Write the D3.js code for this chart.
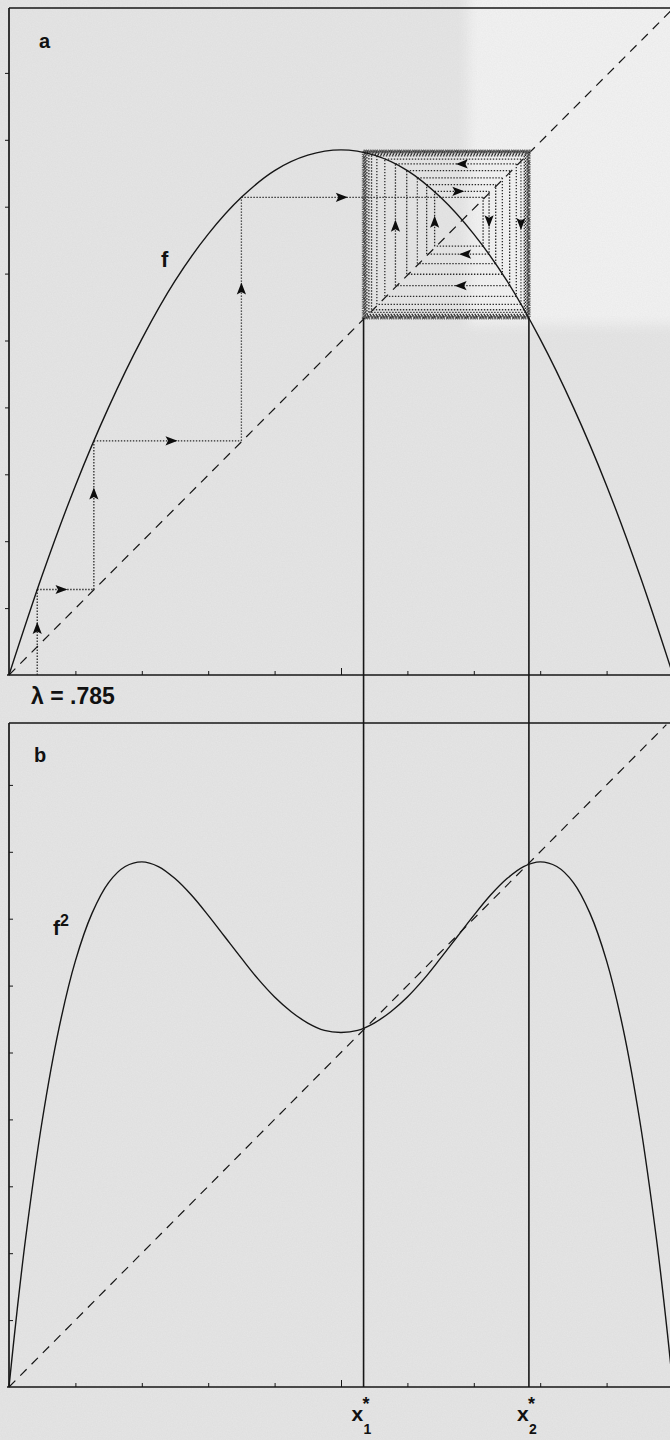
<!DOCTYPE html>
<html>
<head>
<meta charset="utf-8">
<script src="https://cdn.jsdelivr.net/npm/d3@7"></script>
<style>
  html, body { margin: 0; padding: 0; background: #e4e4e4; }
  svg { display: block; }
  text { font-family: "Liberation Sans", Arial, sans-serif; font-weight: bold; fill: #111; }
</style>
</head>
<body>
<svg id="chart" width="670" height="1440"></svg>
<script>
// ---------------- data ----------------
const lambdaLabel = "λ = .785";
const panelLabels = ["a", "b"];
const tickValues = [0.1, 0.2, 0.3, 0.4, 0.5, 0.6, 0.7, 0.8, 0.9];

// f(x) sampled
const fX = [0, 0.05, 0.1, 0.15, 0.2, 0.25, 0.3, 0.35, 0.4, 0.45, 0.5, 0.55, 0.6, 0.65, 0.7, 0.75, 0.8, 0.85, 0.9, 0.95, 1];
const fY = [0, 0.149, 0.283, 0.400, 0.502, 0.589, 0.659, 0.714, 0.754, 0.777, 0.785, 0.777, 0.754, 0.714, 0.659, 0.589, 0.502, 0.400, 0.283, 0.149, 0];

// f²(x) sampled
const f2X = [0, 0.00625, 0.0125, 0.025, 0.05, 0.075, 0.1, 0.125, 0.15, 0.175, 0.2, 0.225, 0.25, 0.275, 0.3, 0.325, 0.35, 0.375, 0.4, 0.425, 0.45, 0.475, 0.5,
             0.525, 0.55, 0.575, 0.6, 0.625, 0.65, 0.675, 0.7, 0.725, 0.75, 0.775, 0.8, 0.825, 0.85, 0.875, 0.9, 0.925, 0.95, 0.975, 0.9875, 0.99375, 1];
const f2Y = [0, 0.060, 0.117, 0.222, 0.398, 0.535, 0.637, 0.708, 0.754, 0.778, 0.785, 0.778, 0.760, 0.735, 0.705, 0.673, 0.641, 0.610, 0.583, 0.561, 0.544, 0.533, 0.530,
             0.533, 0.544, 0.561, 0.583, 0.610, 0.641, 0.673, 0.705, 0.735, 0.760, 0.778, 0.785, 0.778, 0.754, 0.708, 0.637, 0.535, 0.398, 0.222, 0.117, 0.060, 0];

// cobweb iterates x0, x1, x2 ...
const iterates = [0.0425, 0.1278, 0.350, 0.714, 0.641, 0.723, 0.629, 0.733, 0.615, 0.743, 0.599, 0.754, 0.582, 0.764, 0.566, 0.771, 0.554,
                  0.776, 0.546, 0.778, 0.542, 0.780, 0.539, 0.781, 0.537, 0.782, 0.536, 0.783, 0.535, 0.783, 0.534, 0.783, 0.534];

// period-2 points
const cycleLabels = ["1", "2"];
const cyclePoints = [0.534, 0.783];

// arrows: segment index of the cobweb, fraction along it, reversed?
const arrowSeg  = [0, 1, 2, 3, 4, 5, 9, 10, 11, 8, 24, 25, 30, 23];
const arrowT    = [0.59, 0.49, 0.67, 0.55, 0.64, 0.43, 0.5, 0.53, 0.44, 0.51, 0.52, 0.52, 0.47, 0.46];
const arrowRev  = [false, false, false, false, false, false, false, false, false, false, false, true, false, false];

// ---------------- layout ----------------
const svg = d3.select("#chart");
const W = 670, H = 1440;

// paper texture
const defs = svg.append("defs");
const filt = defs.append("filter").attr("id", "grain").attr("x", 0).attr("y", 0).attr("width", "100%").attr("height", "100%");
filt.append("feTurbulence").attr("type", "fractalNoise").attr("baseFrequency", 0.8).attr("numOctaves", 2).attr("seed", 3);
filt.append("feColorMatrix").attr("type", "matrix")
  .attr("values", "0 0 0 0 0.45  0 0 0 0 0.45  0 0 0 0 0.45  0 0 0 0.5 -0.1");
const blur = defs.append("filter").attr("id", "soft");
blur.append("feGaussianBlur").attr("stdDeviation", 6);

svg.append("rect").attr("width", W).attr("height", H).attr("fill", "#e4e4e4");
svg.append("rect").attr("x", 468).attr("y", -10).attr("width", 220).attr("height", 335)
  .attr("fill", "#f1f1f1").attr("filter", "url(#soft)");
svg.append("rect").attr("width", W).attr("height", H).attr("filter", "url(#grain)").attr("opacity", 0.3);

const x = d3.scaleLinear().domain([0, 1]).range([9, 673]);
const yA = d3.scaleLinear().domain([0, 1]).range([675, 6]);
const yB = d3.scaleLinear().domain([0, 1]).range([1387, 718]);

const ink = "#161616";

// ---------- frames ----------
function frame(yS, topY, tickDirLeft) {
  const g = svg.append("g");
  g.append("line").attr("x1", x(0)).attr("x2", W).attr("y1", topY).attr("y2", topY)
    .attr("stroke", ink).attr("stroke-width", 1.7);
  const left = d3.axisLeft(yS).tickValues(tickValues).tickFormat("").tickSizeOuter(0)
    .tickSizeInner(tickDirLeft ? 4 : -4);
  const gl = g.append("g").attr("transform", `translate(${x(0)},0)`).call(left);
  gl.select(".domain").attr("d", `M0,${yS(0)}V${topY}`).attr("stroke", ink).attr("stroke-width", 1.7);
  gl.selectAll(".tick line").attr("stroke", ink).attr("stroke-width", 1);
  const bottom = d3.axisBottom(x).tickValues(tickValues).tickFormat("").tickSizeOuter(0).tickSizeInner(-4);
  const gb = g.append("g").attr("transform", `translate(0,${yS(0)})`).call(bottom);
  gb.select(".domain").attr("d", `M${x(0) - 2},0H${W}`).attr("stroke", ink).attr("stroke-width", 1.7);
  gb.selectAll(".tick line").attr("stroke", ink).attr("stroke-width", 1)
    .attr("y2", d => d === 0.5 ? -7 : -4);
  return g;
}
frame(yA, 8, true);
frame(yB, 723, false);

// ---------- panel a ----------
const gA = svg.append("g");
gA.append("line")
  .attr("x1", x(0)).attr("y1", yA(0)).attr("x2", x(0.997)).attr("y2", yA(0.993))
  .attr("stroke", ink).attr("stroke-width", 1.2).attr("stroke-dasharray", "9,7");

// cobweb segments
const segs = [];
for (let k = 0; k < iterates.length - 1; k++) {
  const xk = iterates[k], xn = iterates[k + 1];
  segs.push({ x1: xk, y1: k === 0 ? 0 : xk, x2: xk, y2: xn });
  segs.push({ x1: xk, y1: xn, x2: xn, y2: xn });
}
gA.append("g").selectAll("line").data(segs).join("line")
  .attr("x1", d => x(d.x1)).attr("y1", d => yA(d.y1))
  .attr("x2", d => x(d.x2)).attr("y2", d => yA(d.y2))
  .attr("stroke", "#2a2a2a").attr("stroke-width", 1.3).attr("stroke-dasharray", "1.4,1.6");

// final cycle box (heavy grey band)
const [c1, c2] = cyclePoints;
gA.append("rect")
  .attr("x", x(c1)).attr("y", yA(c2)).attr("width", x(c2) - x(c1)).attr("height", yA(c1) - yA(c2))
  .attr("fill", "none").attr("stroke", "#666").attr("stroke-width", 3.5).attr("stroke-dasharray", "1.2,1");

// f curve
const lineA = d3.line().x(d => x(d[0])).y(d => yA(d[1])).curve(d3.curveCatmullRom.alpha(0.5));
gA.append("path").datum(d3.zip(fX, fY)).attr("d", lineA)
  .attr("fill", "none").attr("stroke", ink).attr("stroke-width", 1.4);

// arrows
const arrowPath = "M2.5,0 L-9.5,-4.6 L-7,0 L-9.5,4.6 Z";
const arrows = arrowSeg.map((s, i) => {
  const sg = segs[s];
  const t = arrowT[i];
  const px = sg.x1 + (sg.x2 - sg.x1) * t, py = sg.y1 + (sg.y2 - sg.y1) * t;
  let dx = x(sg.x2) - x(sg.x1), dy = yA(sg.y2) - yA(sg.y1);
  if (arrowRev[i]) { dx = -dx; dy = -dy; }
  return { px, py, ang: Math.atan2(dy, dx) * 180 / Math.PI };
});
gA.append("g").selectAll("path").data(arrows).join("path")
  .attr("d", arrowPath)
  .attr("transform", d => `translate(${x(d.px)},${yA(d.py)}) rotate(${d.ang})`)
  .attr("fill", "#0d0d0d");

gA.append("text").attr("x", 39).attr("y", 48).attr("font-size", 20).text(panelLabels[0]);
gA.append("text").attr("x", 161).attr("y", 267).attr("font-size", 22).text("f");

// lambda label
svg.append("text").attr("x", 31).attr("y", 704).attr("font-size", 23).text(lambdaLabel);

// ---------- panel b ----------
const gB = svg.append("g");
gB.append("line")
  .attr("x1", x(0)).attr("y1", yB(0)).attr("x2", x(0.99)).attr("y2", yB(0.99))
  .attr("stroke", ink).attr("stroke-width", 1.2).attr("stroke-dasharray", "9,7");
const lineB = d3.line().x(d => x(d[0])).y(d => yB(d[1])).curve(d3.curveCatmullRom.alpha(0.5));
gB.append("path").datum(d3.zip(f2X, f2Y)).attr("d", lineB)
  .attr("fill", "none").attr("stroke", ink).attr("stroke-width", 1.4);

gB.append("text").attr("x", 34).attr("y", 762).attr("font-size", 20).text(panelLabels[1]);
const f2lab = gB.append("text").attr("x", 53).attr("y", 935).attr("font-size", 21);
f2lab.append("tspan").text("f");
f2lab.append("tspan").attr("dy", -9).attr("font-size", 16).text("2");

// ---------- vertical lines through the 2-cycle ----------
svg.append("g").selectAll("line").data(cyclePoints).join("line")
  .attr("x1", d => x(d)).attr("x2", d => x(d))
  .attr("y1", yA(c1)).attr("y2", yB(0))
  .attr("stroke", ink).attr("stroke-width", 1.6);

// x* labels
const lab = svg.append("g").selectAll("g").data(cyclePoints).join("g")
  .attr("transform", d => `translate(${x(d)},0)`);
lab.append("text").attr("x", -12).attr("y", 1421).attr("font-size", 21).text("x");
lab.append("text").attr("x", -1).attr("y", 1410).attr("font-size", 18).text("*");
lab.append("text").attr("x", 0).attr("y", 1434).attr("font-size", 14).text((d, i) => cycleLabels[i]);
</script>
</body>
</html>
